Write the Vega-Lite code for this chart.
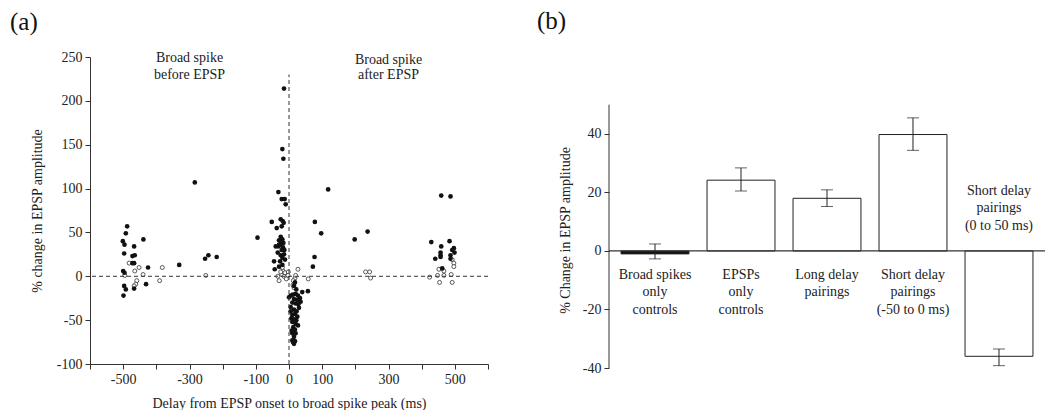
{
  "$schema": "https://vega.github.io/schema/vega-lite/v6.json",
  "padding": {"left": 10, "top": 9, "right": 0, "bottom": 0},
  "spacing": 121,
  "bounds": "flush",
  "config": {
    "font": "Liberation Serif",
    "view": {"stroke": null},
    "axis": {"labelFont": "Liberation Serif", "titleFont": "Liberation Serif", "labelFontSize": 14, "titleFontSize": 14, "titleFontWeight": "normal", "labelColor": "#222", "titleColor": "#222", "domainColor": "#333", "tickColor": "#333", "grid": false},
    "title": {"font": "Liberation Serif", "fontSize": 25, "fontWeight": "normal", "color": "#111", "anchor": "start", "frame": "group"}
  },
  "datasets": {
    "scatter": [
      {"x": -488, "y": 57, "kind": "filled"}, {"x": -492, "y": 49, "kind": "filled"}, {"x": -501, "y": 40, "kind": "filled"}, {"x": -496, "y": 36, "kind": "filled"}, {"x": -467, "y": 34, "kind": "filled"}, {"x": -439, "y": 42, "kind": "filled"}, {"x": -497, "y": 26, "kind": "filled"}, {"x": -472, "y": 23, "kind": "filled"}, {"x": -465, "y": 24, "kind": "filled"}, {"x": -472, "y": 15, "kind": "filled"}, {"x": -467, "y": 15, "kind": "filled"}, {"x": -425, "y": 10, "kind": "filled"}, {"x": -500, "y": 6, "kind": "filled"}, {"x": -496, "y": 4, "kind": "filled"}, {"x": -497, "y": -11, "kind": "filled"}, {"x": -492, "y": -15, "kind": "filled"}, {"x": -467, "y": -14, "kind": "filled"}, {"x": -431, "y": -9, "kind": "filled"}, {"x": -499, "y": -22, "kind": "filled"},
      {"x": -482, "y": 15, "kind": "open"}, {"x": -452, "y": 10, "kind": "open"}, {"x": -465, "y": 6, "kind": "open"}, {"x": -440, "y": 2, "kind": "open"}, {"x": -495, "y": 1, "kind": "open"}, {"x": -459, "y": -5, "kind": "open"}, {"x": -462, "y": -9, "kind": "open"}, {"x": -467, "y": -11, "kind": "open"}, {"x": -382, "y": 10, "kind": "open"}, {"x": -390, "y": -5, "kind": "open"},
      {"x": -331, "y": 13, "kind": "filled"}, {"x": -284, "y": 107, "kind": "filled"}, {"x": -253, "y": 20, "kind": "filled"}, {"x": -243, "y": 24, "kind": "filled"}, {"x": -218, "y": 22, "kind": "filled"}, {"x": -251, "y": 1, "kind": "open"},
      {"x": -15, "y": 214, "kind": "filled"}, {"x": -20, "y": 145, "kind": "filled"}, {"x": -17, "y": 134, "kind": "filled"}, {"x": -32, "y": 96, "kind": "filled"}, {"x": -22, "y": 88, "kind": "filled"}, {"x": -13, "y": 88, "kind": "filled"}, {"x": -10, "y": 82, "kind": "filled"}, {"x": -52, "y": 62, "kind": "filled"}, {"x": -25, "y": 65, "kind": "filled"}, {"x": -19, "y": 63, "kind": "filled"}, {"x": -16, "y": 61, "kind": "filled"}, {"x": -37, "y": 55, "kind": "filled"}, {"x": -22, "y": 57, "kind": "filled"}, {"x": -95, "y": 44, "kind": "filled"}, {"x": -25, "y": 45, "kind": "filled"}, {"x": -20, "y": 42, "kind": "filled"}, {"x": -30, "y": 41, "kind": "filled"}, {"x": -40, "y": 34, "kind": "filled"}, {"x": -32, "y": 34, "kind": "filled"}, {"x": -25, "y": 36, "kind": "filled"}, {"x": -18, "y": 33, "kind": "filled"}, {"x": -22, "y": 30, "kind": "filled"}, {"x": -14, "y": 30, "kind": "filled"}, {"x": -45, "y": 17, "kind": "filled"}, {"x": -25, "y": 24, "kind": "filled"}, {"x": -15, "y": 25, "kind": "filled"}, {"x": -20, "y": 21, "kind": "filled"}, {"x": -43, "y": 8, "kind": "filled"}, {"x": -30, "y": 11, "kind": "filled"}, {"x": -20, "y": 13, "kind": "filled"}, {"x": -27, "y": 17, "kind": "filled"}, {"x": -34, "y": 27, "kind": "filled"}, {"x": -12, "y": 19, "kind": "filled"}, {"x": -23, "y": 39, "kind": "filled"}, {"x": -30, "y": 36, "kind": "filled"}, {"x": -17, "y": 38, "kind": "filled"},
      {"x": -34, "y": 0, "kind": "open"}, {"x": -30, "y": -5, "kind": "open"}, {"x": -22, "y": 2, "kind": "open"}, {"x": -15, "y": 0, "kind": "open"}, {"x": -18, "y": 6, "kind": "open"}, {"x": -20, "y": 10, "kind": "open"}, {"x": -12, "y": 4, "kind": "open"}, {"x": -2, "y": 5, "kind": "open"}, {"x": -3, "y": 1, "kind": "open"}, {"x": -8, "y": -3, "kind": "open"}, {"x": -25, "y": 5, "kind": "open"},
      {"x": 18, "y": -7, "kind": "filled"}, {"x": 15, "y": -11, "kind": "filled"}, {"x": 22, "y": -15, "kind": "filled"}, {"x": 5, "y": -22, "kind": "filled"}, {"x": 12, "y": -21, "kind": "filled"}, {"x": 20, "y": -20, "kind": "filled"}, {"x": 27, "y": -22, "kind": "filled"}, {"x": 33, "y": -25, "kind": "filled"}, {"x": 35, "y": -29, "kind": "filled"}, {"x": 25, "y": -27, "kind": "filled"}, {"x": 15, "y": -26, "kind": "filled"}, {"x": 10, "y": -30, "kind": "filled"}, {"x": 20, "y": -31, "kind": "filled"}, {"x": 28, "y": -32, "kind": "filled"}, {"x": 5, "y": -40, "kind": "filled"}, {"x": 15, "y": -38, "kind": "filled"}, {"x": 23, "y": -40, "kind": "filled"}, {"x": 10, "y": -44, "kind": "filled"}, {"x": 18, "y": -43, "kind": "filled"}, {"x": 25, "y": -46, "kind": "filled"}, {"x": 7, "y": -48, "kind": "filled"}, {"x": 15, "y": -49, "kind": "filled"}, {"x": 22, "y": -50, "kind": "filled"}, {"x": 10, "y": -52, "kind": "filled"}, {"x": 20, "y": -54, "kind": "filled"}, {"x": 27, "y": -56, "kind": "filled"}, {"x": 13, "y": -58, "kind": "filled"}, {"x": 8, "y": -62, "kind": "filled"}, {"x": 18, "y": -61, "kind": "filled"}, {"x": 10, "y": -65, "kind": "filled"}, {"x": 20, "y": -65, "kind": "filled"}, {"x": 15, "y": -69, "kind": "filled"}, {"x": 10, "y": -73, "kind": "filled"}, {"x": 18, "y": -74, "kind": "filled"}, {"x": 15, "y": -77, "kind": "filled"}, {"x": 12, "y": -75, "kind": "filled"}, {"x": 0, "y": -24, "kind": "filled"}, {"x": 30, "y": -36, "kind": "filled"}, {"x": 5, "y": -35, "kind": "filled"}, {"x": 40, "y": -18, "kind": "filled"}, {"x": 57, "y": -17, "kind": "filled"},
      {"x": 27, "y": 8, "kind": "open"}, {"x": 58, "y": -3, "kind": "open"}, {"x": 18, "y": -2, "kind": "open"}, {"x": 13, "y": -5, "kind": "open"}, {"x": 20, "y": 1, "kind": "open"}, {"x": 12, "y": -10, "kind": "open"}, {"x": 15, "y": -13, "kind": "open"},
      {"x": 78, "y": 62, "kind": "filled"}, {"x": 97, "y": 49, "kind": "filled"}, {"x": 118, "y": 99, "kind": "filled"}, {"x": 77, "y": 22, "kind": "filled"}, {"x": 72, "y": 11, "kind": "filled"}, {"x": 198, "y": 42, "kind": "filled"}, {"x": 237, "y": 51, "kind": "filled"},
      {"x": 231, "y": 5, "kind": "open"}, {"x": 243, "y": 5, "kind": "open"}, {"x": 246, "y": -2, "kind": "open"},
      {"x": 429, "y": 39, "kind": "filled"}, {"x": 441, "y": 20, "kind": "filled"}, {"x": 457, "y": 27, "kind": "filled"}, {"x": 457, "y": 24, "kind": "filled"}, {"x": 457, "y": 22, "kind": "filled"}, {"x": 459, "y": 34, "kind": "filled"}, {"x": 462, "y": 9, "kind": "filled"}, {"x": 484, "y": 40, "kind": "filled"}, {"x": 497, "y": 32, "kind": "filled"}, {"x": 492, "y": 30, "kind": "filled"}, {"x": 499, "y": 27, "kind": "filled"}, {"x": 487, "y": 24, "kind": "filled"}, {"x": 487, "y": 20, "kind": "filled"}, {"x": 459, "y": 92, "kind": "filled"}, {"x": 487, "y": 91, "kind": "filled"},
      {"x": 424, "y": -1, "kind": "open"}, {"x": 452, "y": 8, "kind": "open"}, {"x": 448, "y": 1, "kind": "open"}, {"x": 454, "y": -7, "kind": "open"}, {"x": 467, "y": 6, "kind": "open"}, {"x": 467, "y": 1, "kind": "open"}, {"x": 489, "y": 2, "kind": "open"}, {"x": 492, "y": -7, "kind": "open"}, {"x": 492, "y": 19, "kind": "open"}, {"x": 497, "y": 15, "kind": "open"}, {"x": 497, "y": 11, "kind": "open"}
    ],
    "bars": [
      {"cat": "Broad spikes only controls", "label": "Broad spikes\nonly\ncontrols", "value": -1, "lo": -2.7, "hi": 2.4},
      {"cat": "EPSPs only controls", "label": "EPSPs\nonly\ncontrols", "value": 24.2, "lo": 20.5, "hi": 28.4},
      {"cat": "Long delay pairings", "label": "Long delay\npairings", "value": 18, "lo": 15.2, "hi": 20.9},
      {"cat": "Short delay pairings (-50 to 0 ms)", "label": "Short delay\npairings\n(-50 to 0 ms)", "value": 39.8, "lo": 34.4, "hi": 45.5},
      {"cat": "Short delay pairings (0 to 50 ms)", "label": "Short delay\npairings\n(0 to 50 ms)", "value": -36, "lo": -39.2, "hi": -33.5}
    ]
  },
  "hconcat": [
    {
      "width": 398,
      "height": 307,
      "title": {"text": "(a)", "dx": -80, "offset": 15},
      "layer": [
        {
          "data": {"name": "scatter"},
          "transform": [{"filter": "datum.kind === 'open'"}],
          "mark": {"type": "point", "filled": false, "fill": "white", "fillOpacity": 1, "stroke": "#333", "strokeWidth": 0.8, "size": 16},
          "encoding": {
            "x": {"field": "x", "type": "quantitative", "scale": {"domain": [-600, 600], "nice": false},
              "axis": {"title": "Delay from EPSP onset to broad spike peak (ms)", "tickCount": 24, "values": [-600, -550, -500, -450, -400, -350, -300, -250, -200, -150, -100, -50, 0, 50, 100, 150, 200, 250, 300, 350, 400, 450, 500, 550, 600],
                "labelExpr": "datum.value == -500 || datum.value == -300 || datum.value == -100 || datum.value == 0 || datum.value == 100 || datum.value == 300 || datum.value == 500 ? replace(format(datum.value, 'd'), '\u2212', '-') : ''",
                "tickSize": {"condition": {"test": "datum.value % 100 === 0", "value": 5}, "value": 3},
                "labelPadding": 3, "titlePadding": 10, "labelFlush": false, "labelOverlap": false}},
            "y": {"field": "y", "type": "quantitative", "scale": {"domain": [-100, 250], "nice": false},
              "axis": {"title": "% change in EPSP amplitude", "tickCount": 14, "values": [-100, -75, -50, -25, 0, 25, 50, 75, 100, 125, 150, 175, 200, 225, 250],
                "labelExpr": "datum.value % 50 == 0 ? replace(format(datum.value, 'd'), '\u2212', '-') : ''",
                "tickSize": {"condition": {"test": "datum.value % 50 === 0", "value": 5}, "value": 3},
                "labelPadding": 3, "titlePadding": 12, "labelOverlap": false}}
          }
        },
        {
          "data": {"name": "scatter"},
          "transform": [{"filter": "datum.kind === 'filled'"}],
          "mark": {"type": "circle", "color": "#111", "opacity": 1, "size": 22},
          "encoding": {
            "x": {"field": "x", "type": "quantitative"},
            "y": {"field": "y", "type": "quantitative"}
          }
        },
        {
          "data": {"values": [{}]},
          "mark": {"type": "rule", "strokeDash": [4, 3], "color": "#333", "strokeWidth": 1},
          "encoding": {"y": {"datum": 0, "type": "quantitative"}}
        },
        {
          "data": {"values": [{}]},
          "mark": {"type": "rule", "strokeDash": [4, 3], "color": "#333", "strokeWidth": 1},
          "encoding": {"x": {"datum": 0, "type": "quantitative"}, "y": {"datum": -100, "type": "quantitative"}, "y2": {"datum": 230}}
        },
        {
          "data": {"values": [{}]},
          "mark": {"type": "text", "text": ["Broad spike", "before EPSP"], "fontSize": 14, "lineHeight": 16.5, "baseline": "top", "align": "center", "color": "#222", "dy": -6},
          "encoding": {"x": {"datum": -300, "type": "quantitative"}, "y": {"datum": 250, "type": "quantitative"}}
        },
        {
          "data": {"values": [{}]},
          "mark": {"type": "text", "text": ["Broad spike", "after EPSP"], "fontSize": 14, "lineHeight": 14.5, "baseline": "top", "align": "center", "color": "#222", "dy": -4},
          "encoding": {"x": {"datum": 300, "type": "quantitative"}, "y": {"datum": 250, "type": "quantitative"}}
        }
      ]
    },
    {
      "width": 436,
      "height": 311,
      "title": {"text": "(b)", "dx": -72, "offset": 23},
      "data": {"name": "bars"},
      "layer": [
        {
          "mark": {"type": "bar", "stroke": "#222", "strokeWidth": 1},
          "encoding": {
            "x": {"field": "cat", "type": "nominal", "sort": null, "axis": null, "scale": {"paddingInner": 0.21, "paddingOuter": 0.14}},
            "y": {"field": "value", "type": "quantitative", "scale": {"domain": [-40, 66.3], "nice": false, "zero": false},
              "axis": {"title": "% Change in EPSP amplitude", "domain": false, "values": [-40, -30, -20, -10, 0, 10, 20, 30, 40, 50],
                "labelExpr": "datum.value % 20 == 0 ? replace(format(datum.value, 'd'), '\u2212', '-') : ''",
                "tickSize": {"condition": {"test": "datum.value % 20 === 0", "value": 5}, "value": 3},
                "labelPadding": 3, "titlePadding": 10, "titleY": 173, "labelOverlap": false}},
            "fill": {"condition": {"test": "datum.value < 0 && datum.value > -5", "value": "#111"}, "value": "white"}
          }
        },
        {
          "data": {"values": [{}]},
          "mark": {"type": "rule", "color": "#333", "strokeWidth": 1.2},
          "encoding": {"y": {"datum": 0, "type": "quantitative"}}
        },
        {
          "data": {"values": [{}]},
          "mark": {"type": "rule", "color": "#333", "strokeWidth": 1},
          "encoding": {"x": {"value": 0}, "y": {"datum": -40, "type": "quantitative"}, "y2": {"datum": 50}}
        },
        {
          "mark": {"type": "rule", "color": "#222", "strokeWidth": 1},
          "encoding": {"x": {"field": "cat", "type": "nominal", "sort": null}, "y": {"field": "lo", "type": "quantitative"}, "y2": {"field": "hi"}}
        },
        {
          "mark": {"type": "tick", "color": "#222", "thickness": 1, "size": 12, "orient": "horizontal"},
          "encoding": {"x": {"field": "cat", "type": "nominal", "sort": null}, "y": {"field": "lo", "type": "quantitative"}}
        },
        {
          "mark": {"type": "tick", "color": "#222", "thickness": 1, "size": 12, "orient": "horizontal"},
          "encoding": {"x": {"field": "cat", "type": "nominal", "sort": null}, "y": {"field": "hi", "type": "quantitative"}}
        },
        {
          "transform": [{"filter": "datum.value > -10"}],
          "mark": {"type": "text", "lineBreak": "\n", "fontSize": 14, "lineHeight": 17.5, "baseline": "top", "align": "center", "color": "#222", "dy": 17},
          "encoding": {"x": {"field": "cat", "type": "nominal", "sort": null}, "text": {"field": "label"}, "y": {"datum": 0, "type": "quantitative"}}
        },
        {
          "transform": [{"filter": "datum.value <= -10"}],
          "mark": {"type": "text", "lineBreak": "\n", "fontSize": 14, "lineHeight": 17.5, "baseline": "top", "align": "center", "color": "#222", "dy": -67},
          "encoding": {"x": {"field": "cat", "type": "nominal", "sort": null}, "text": {"field": "label"}, "y": {"datum": 0, "type": "quantitative"}}
        }
      ]
    }
  ]
}
